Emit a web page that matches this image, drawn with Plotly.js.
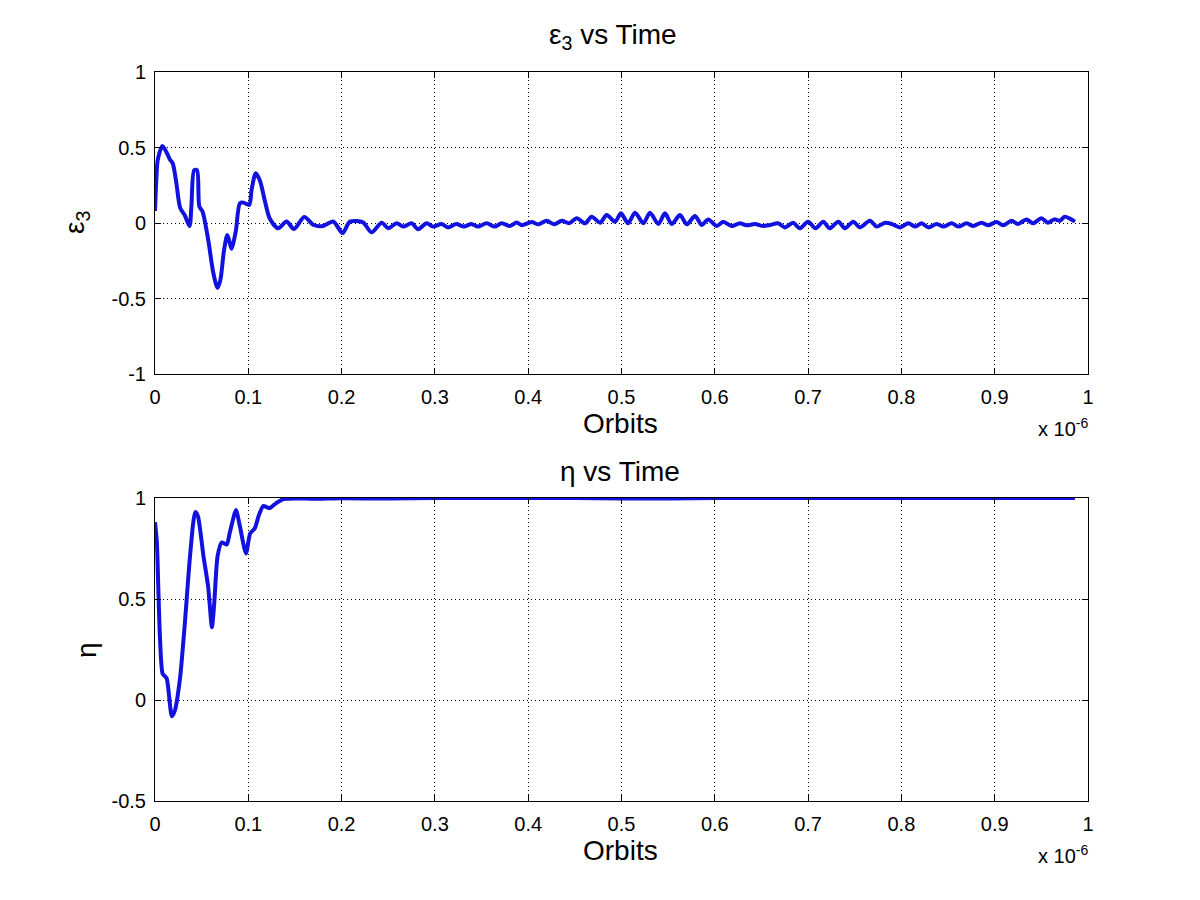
<!DOCTYPE html>
<html>
<head>
<meta charset="utf-8">
<script src="https://cdn.plot.ly/plotly-3.0.1.min.js"></script>
<style>
  html, body { margin: 0; padding: 0; background: #ffffff; }
  #chart { width: 1200px; height: 900px; }
</style>
</head>
<body>
<div id="chart"></div>
<script>
// Time axis in units of 1e-6 (shown with an "x 10^-6" multiplier)
const epsTime = [
  0, 0.0015, 0.003, 0.008, 0.013, 0.016, 0.019, 0.023, 0.027, 0.032,
  0.037, 0.039, 0.042, 0.045, 0.0475, 0.051, 0.057, 0.0625, 0.067, 0.070,
  0.074, 0.0775, 0.080, 0.082, 0.0867, 0.091, 0.095, 0.101, 0.1035, 0.108,
  0.1125, 0.118, 0.123, 0.132, 0.141, 0.149, 0.160, 0.170, 0.180, 0.191,
  0.201, 0.209, 0.223, 0.232, 0.243, 0.250, 0.259, 0.266, 0.275, 0.282,
  0.291, 0.298, 0.307, 0.314, 0.323, 0.331, 0.339, 0.346, 0.3555, 0.364,
  0.3716, 0.3805, 0.3877, 0.393, 0.4037, 0.411, 0.4198, 0.428, 0.436, 0.444,
  0.452, 0.461, 0.468, 0.477, 0.4841, 0.493, 0.4995, 0.507, 0.5145, 0.5234,
  0.5305, 0.5395, 0.5466, 0.5538, 0.5627, 0.5699, 0.5788, 0.586, 0.593, 0.602,
  0.609, 0.618, 0.627, 0.634, 0.643, 0.652, 0.659, 0.668, 0.675, 0.684,
  0.691, 0.700, 0.708, 0.7163, 0.723, 0.7324, 0.7395, 0.7484, 0.7556, 0.7663,
  0.7735, 0.7824, 0.790, 0.7985, 0.8074, 0.815, 0.8217, 0.8288, 0.8378, 0.845,
  0.8538, 0.861, 0.870, 0.877, 0.886, 0.893, 0.902, 0.909, 0.918, 0.925,
  0.934, 0.941, 0.950, 0.957, 0.964, 0.970, 0.975, 0.980, 0.986
];
const eps3 = [
  0.08, 0.30, 0.42, 0.51, 0.46, 0.42, 0.395, 0.26, 0.10, 0.05,
  -0.02, 0.11, 0.35, 0.35, 0.11, 0.075, -0.11, -0.33, -0.43, -0.38,
  -0.18, -0.08, -0.13, -0.17, -0.05, 0.13, 0.135, 0.12, 0.22, 0.33,
  0.28, 0.14, 0.03, -0.035, 0.01, -0.04, 0.04, -0.013, -0.02, 0.01,
  -0.066, 0.009, 0.004, -0.062, 0.002, -0.035, -0.002, -0.024, -0.002, -0.042,
  -0.002, -0.024, -0.007, -0.029, -0.007, -0.024, -0.007, -0.024, -0.002, -0.024,
  -0.002, -0.020, 0.004, -0.015, 0.007, -0.009, 0.015, -0.009, 0.015, -0.002,
  0.031, -0.002, 0.042, 0.002, 0.053, 0.009, 0.064, -0.002, 0.068, -0.002,
  0.068, -0.007, 0.064, -0.007, 0.053, -0.009, 0.046, -0.013, 0.024, -0.020,
  0.009, -0.020, -0.002, -0.015, -0.007, -0.020, -0.013, -0.002, -0.029, 0.002,
  -0.035, 0.009, -0.035, 0.009, -0.035, 0.009, -0.035, 0.009, -0.029, 0.015,
  -0.024, 0.002, -0.007, -0.029, -0.002, -0.024, -0.002, -0.029, -0.007, -0.024,
  -0.002, -0.024, -0.002, -0.020, 0.002, -0.015, 0.007, -0.015, 0.015, -0.007,
  0.024, -0.002, 0.031, 0.002, 0.024, 0.015, 0.042, 0.031, 0.009
];

const etaTime = [
  0, 0.002, 0.0036, 0.0054, 0.0082, 0.0125, 0.018, 0.0214, 0.027, 0.032,
  0.0375, 0.043, 0.046, 0.052, 0.057, 0.061, 0.0635, 0.067, 0.0714, 0.077,
  0.080, 0.0868, 0.091, 0.0975, 0.102, 0.107, 0.111, 0.116, 0.123, 0.130,
  0.1375, 0.152, 0.170, 0.200, 0.250, 0.300, 0.350, 0.400, 0.450, 0.500,
  0.550, 0.600, 0.700, 0.800, 0.900, 0.986
];
const eta = [
  0.88, 0.78, 0.545, 0.30, 0.13, 0.107, -0.08, -0.05, 0.115, 0.38,
  0.71, 0.93, 0.91, 0.71, 0.56, 0.36, 0.48, 0.71, 0.78, 0.77,
  0.825, 0.94, 0.86, 0.725, 0.825, 0.85, 0.91, 0.96, 0.95, 0.975,
  0.995, 0.998, 0.996, 0.999, 0.997, 1.0, 1.0, 1.0, 1.0, 0.998,
  0.998, 1.0, 1.0, 1.0, 1.0, 1.0
];

const xTicks = [0, 0.1, 0.2, 0.3, 0.4, 0.5, 0.6, 0.7, 0.8, 0.9, 1];
const epsTickVals = [-1, -0.5, 0, 0.5, 1];
const epsTickText = ['-1', '-0.5', '0', '0.5', '1'];
const etaTickVals = [-0.5, 0, 0.5, 1];
const etaTickText = ['-0.5', '0', '0.5', '1'];

const W = 1200, H = 900;
const px = v => v / W;          // pixel -> paper x
const py = v => 1 - v / H;      // pixel -> paper y

const lineColor = '#1212e0';
const font = 'Liberation Sans, Arial, Helvetica, sans-serif';
const labelSize = 28;

function axisBase(extra) {
  return Object.assign({
    showline: true, linecolor: '#000', linewidth: 1, mirror: 'ticks',
    ticks: 'inside', ticklen: 6, tickcolor: '#000', tickwidth: 1,
    showgrid: true, gridcolor: '#000', griddash: '1px,3px', gridwidth: 1,
    zeroline: false, fixedrange: true,
    tickfont: { family: font, size: 20, color: '#000' }
  }, extra);
}

const traces = [
  { x: epsTime, y: eps3, xaxis: 'x', yaxis: 'y', type: 'scatter', mode: 'lines',
    line: { color: lineColor, width: 4, shape: 'spline', smoothing: 0.8 }, hoverinfo: 'skip' },
  { x: etaTime, y: eta, xaxis: 'x2', yaxis: 'y2', type: 'scatter', mode: 'lines',
    line: { color: lineColor, width: 4, shape: 'spline', smoothing: 0.6 }, hoverinfo: 'skip' }
];

function label(text, x, y, size, extra) {
  return Object.assign({
    text: text, x: px(x), y: py(y), xref: 'paper', yref: 'paper',
    showarrow: false, xanchor: 'center', yanchor: 'middle',
    font: { family: font, size: size, color: '#000' }
  }, extra || {});
}

const layout = {
  width: W, height: H,
  margin: { l: 0, r: 0, t: 0, b: 0 },
  paper_bgcolor: '#fff', plot_bgcolor: '#fff',
  showlegend: false,
  xaxis: axisBase({ domain: [px(155), px(1088)], range: [0, 1], tickvals: xTicks, anchor: 'y', ticklabelstandoff: 5 }),
  yaxis: axisBase({ domain: [py(374), py(72)], range: [-1, 1], tickvals: epsTickVals, ticktext: epsTickText, anchor: 'x', ticklabelstandoff: 4 }),
  xaxis2: axisBase({ domain: [px(155), px(1088)], range: [0, 1], tickvals: xTicks, anchor: 'y2', ticklabelstandoff: 5 }),
  yaxis2: axisBase({ domain: [py(801), py(498)], range: [-0.5, 1], tickvals: etaTickVals, ticktext: etaTickText, anchor: 'x2', ticklabelstandoff: 4 }),
  annotations: [
    label('ε<sub>3</sub> vs Time', 613, 36, labelSize),
    label('η vs Time', 620, 471, labelSize),
    label('Orbits', 620, 423, labelSize),
    label('Orbits', 620, 850, labelSize),
    label('ε<sub>3</sub>', 76, 223, labelSize, { textangle: -90 }),
    label('η', 86, 650, labelSize, { textangle: -90 }),
    label('x 10<sup>-6</sup>', 1090, 428, 20, { xanchor: 'right' }),
    label('x 10<sup>-6</sup>', 1090, 854, 20, { xanchor: 'right' })
  ]
};

Plotly.newPlot('chart', traces, layout, { displayModeBar: false, staticPlot: true });
</script>
</body>
</html>
